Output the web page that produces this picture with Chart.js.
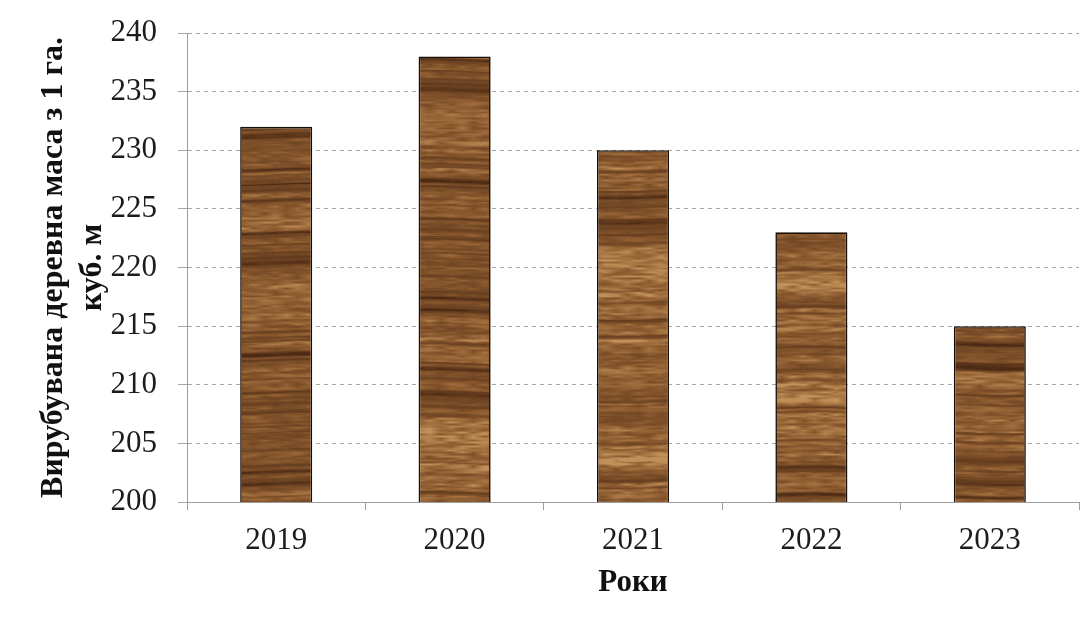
<!DOCTYPE html>
<html>
<head>
<meta charset="utf-8">
<script src="https://cdn.jsdelivr.net/npm/chart.js@4.4.1/dist/chart.umd.min.js"></script>
<style>
  html, body { margin: 0; padding: 0; background: #ffffff; }
  #wrap { width: 1091px; height: 619px; position: relative; }
</style>
</head>
<body>
<div id="wrap"><canvas id="chart" width="1091" height="619"></canvas></div>
<script>
// Harvested timber volume per hectare, by year
const years = ['2019', '2020', '2021', '2022', '2023'];
const felledVolume = [232, 238, 230, 223, 215];
const yMin = 200;
const yMax = 240;
const yStep = 5;
const yTitleLines = ['Вирубувана деревна маса з 1 га.', 'куб. м'];
const xTitleText = 'Роки';

// Small seeded generator so the wood grain looks the same on every load
function seeded(seed) {
  return function () {
    seed |= 0; seed = (seed + 0x6D2B79F5) | 0;
    let t = Math.imul(seed ^ (seed >>> 15), 1 | seed);
    t = (t + Math.imul(t ^ (t >>> 7), 61 | t)) ^ t;
    return ((t ^ (t >>> 14)) >>> 0) / 4294967296;
  };
}

function bump(d, w) {
  const q = d / w;
  return Math.exp(-(q * q));
}

// Builds a canvas-sized wood-grain fill (horizontal grain) for the bars
function woodPattern(W, H) {
  const raw = document.createElement('canvas');
  raw.width = W; raw.height = H;
  const g = raw.getContext('2d');
  const rand = seeded(731);
  const R = H + 1200;
  const tone = new Float32Array(R);

  // broad slow variation
  let v = 0;
  for (let i = 0; i < R; i++) { v += (rand() - 0.5) * 0.3; v *= 0.95; tone[i] += v * 1.1; }
  // dark growth rings
  for (let k = 0; k < R / 7; k++) {
    const c = rand() * R, w = 0.7 + rand() * 1.3, a = -(0.2 + rand() * 0.55);
    for (let i = Math.floor(c - 3 * w); i <= c + 3 * w; i++) {
      if (i >= 0 && i < R) tone[i] += a * bump(i - c, w);
    }
  }
  // pale streaks
  for (let k = 0; k < R / 10; k++) {
    const c = rand() * R, w = 1 + rand() * 2.5, a = 0.15 + rand() * 0.3;
    for (let i = Math.floor(c - 3 * w); i <= c + 3 * w; i++) {
      if (i >= 0 && i < R) tone[i] += a * bump(i - c, w);
    }
  }

  // fibre noise: long along the grain, short across it
  const step = 11;
  const FC = Math.ceil(W / step) + 2;
  const FR = Math.ceil(H / 2) + 2;
  const fib = new Float32Array(FR * FC);
  for (let i = 0; i < fib.length; i++) fib[i] = rand() - 0.5;
  const fibAt = (x, y) => {
    const fx = x / step, fi = Math.floor(fx), ff = fx - fi;
    const fy = y / 2, fj = Math.floor(fy), fg = fy - fj;
    const a = fib[fj * FC + fi] * (1 - ff) + fib[fj * FC + fi + 1] * ff;
    const b = fib[(fj + 1) * FC + fi] * (1 - ff) + fib[(fj + 1) * FC + fi + 1] * ff;
    return a * (1 - fg) + b * fg;
  };

  const img = g.createImageData(W, H);
  const d = img.data;
  const base = [142, 92, 48], light = [192, 144, 88], dark = [76, 42, 20];
  for (let y = 0; y < H; y++) {
    for (let x = 0; x < W; x++) {
      const col = Math.floor(x / 178);
      const pos = y + col * 173 + Math.sin(x * 0.04 + col * 1.7) * 1.1 + 40;
      const p0 = Math.floor(pos), f = pos - p0;
      const ring = tone[p0] * (1 - f) + tone[p0 + 1] * f;
      const fb = fibAt(x, y);
      let t = ring * (0.75 + fb * 0.9) + fb * 0.7 + (rand() - 0.5) * 0.1;
      const tgt = t >= 0 ? light : dark;
      const m = Math.min(1, Math.abs(t));
      const o = (y * W + x) * 4;
      d[o] = base[0] + (tgt[0] - base[0]) * m;
      d[o + 1] = base[1] + (tgt[1] - base[1]) * m;
      d[o + 2] = base[2] + (tgt[2] - base[2]) * m;
      d[o + 3] = 255;
    }
  }
  g.putImageData(img, 0, 0);

  // soften the grain slightly
  const soft = document.createElement('canvas');
  soft.width = W; soft.height = H;
  const sg = soft.getContext('2d');
  sg.filter = 'blur(0.7px)';
  sg.drawImage(raw, 0, 0);
  return sg.createPattern(soft, 'repeat');
}

const canvas = document.getElementById('chart');
const ctx = canvas.getContext('2d');
const wood = woodPattern(canvas.width, canvas.height);

const serif = '"Liberation Serif", "Times New Roman", serif';
const axisGrey = '#9c9c9c';

new Chart(ctx, {
  type: 'bar',
  data: {
    labels: years,
    datasets: [{
      data: felledVolume,
      backgroundColor: wood,
      borderColor: '#171009',
      borderWidth: 1.6,
      borderSkipped: false,
      categoryPercentage: 1,
      barPercentage: 0.404
    }]
  },
  options: {
    responsive: false,
    animation: false,
    devicePixelRatio: 1,
    layout: { padding: { top: 33, right: 12, bottom: 0, left: 0 } },
    plugins: {
      legend: { display: false },
      tooltip: { enabled: false }
    },
    scales: {
      x: {
        type: 'category',
        offset: true,
        grid: {
          offset: true,
          drawOnChartArea: false,
          drawTicks: true,
          tickLength: 8,
          tickColor: axisGrey,
          color: axisGrey
        },
        border: { color: axisGrey, width: 1 },
        ticks: {
          color: '#1c1c1c',
          padding: 12,
          font: { family: serif, size: 31 }
        },
        title: {
          display: true,
          text: xTitleText,
          color: '#111111',
          font: { family: serif, size: 31, weight: 'bold' },
          padding: { top: 0, bottom: 17 }
        },
        afterFit: (s) => { s.height = 117; }
      },
      y: {
        min: yMin,
        max: yMax,
        ticks: {
          stepSize: yStep,
          color: '#1c1c1c',
          padding: 21,
          font: { family: serif, size: 31 }
        },
        grid: {
          color: '#a6a6a6',
          lineWidth: 1,
          tickLength: 9,
          tickColor: '#a6a6a6'
        },
        border: { color: axisGrey, width: 1, dash: [4, 4] },
        title: {
          display: true,
          text: yTitleLines,
          color: '#111111',
          font: { family: serif, size: 32, weight: 'bold', lineHeight: 1.22 },
          padding: { top: 34, bottom: 0 }
        },
        afterFit: (s) => {
          s.width = 187;
          s.paddingTop = 0;
          s.paddingBottom = 0;
        }
      }
    }
  }
});
</script>
</body>
</html>
